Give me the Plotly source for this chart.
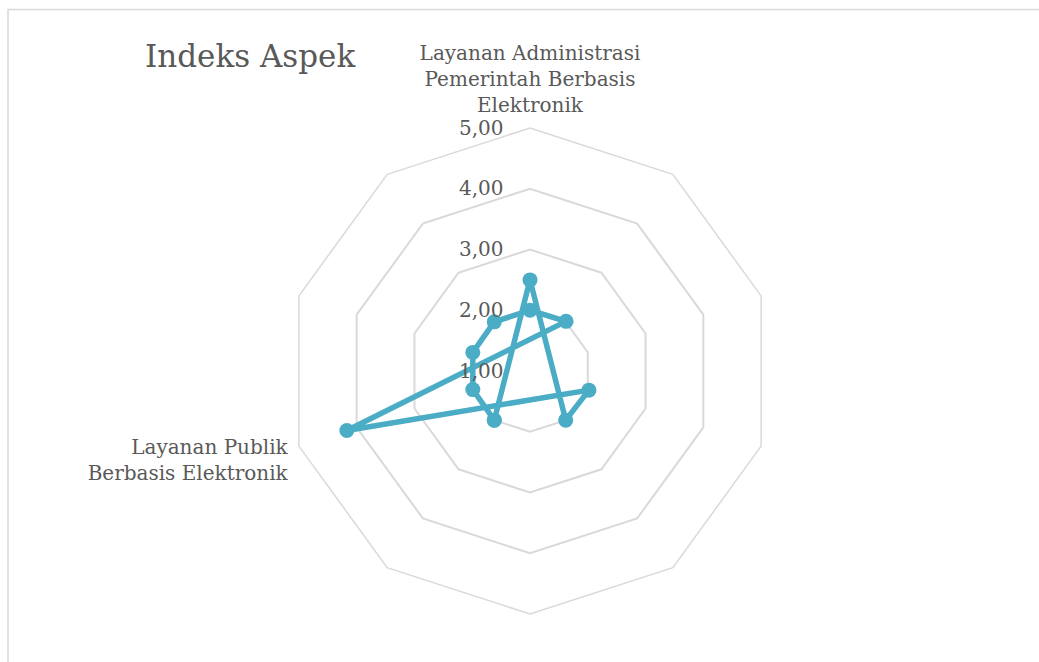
import plotly.graph_objects as go

# Ten radar categories (clockwise from the top); only two carry visible names
categories = [
    "Layanan Administrasi<br>Pemerintah Berbasis<br>Elektronik",
    " ", "  ", "   ", "    ", "     ", "      ",
    "Layanan Publik<br>Berbasis Elektronik",
    "       ", "        ",
]

# Order in which the series visits the categories, and the plotted values
point_category_index = [6, 0, 4, 3, 7, 1, 0, 9, 8, 7]
point_values = [2.00, 2.50, 2.00, 2.02, 4.17, 2.01, 2.00, 2.00, 1.99, 1.99]

radial_ticks = [1, 2, 3, 4, 5]

theta = [categories[i] for i in point_category_index]
theta = theta + theta[:1]
r = point_values + point_values[:1]

COLOR = "#4bacc6"
TEXT = "#595959"
GRID = "#d9d9d9"
FONT = "DejaVu Serif"

fig = go.Figure()
fig.add_trace(go.Scatterpolar(
    r=r, theta=theta, mode="lines+markers",
    line=dict(color=COLOR, width=5.5),
    marker=dict(color=COLOR, size=15),
    showlegend=False, hoverinfo="skip",
))

W, H = 1039, 662
cx, cy, R = 530, 371, 243
fig.update_layout(
    width=W, height=H,
    margin=dict(l=0, r=0, t=0, b=0),
    paper_bgcolor="white",
    separators=",.",
    font=dict(family=FONT, size=20, color=TEXT),
    title=dict(text="Indeks Aspek", x=145 / W, xanchor="left",
               y=1 - 56 / H, yanchor="middle", xref="paper", yref="paper",
               font=dict(family=FONT, size=31, color=TEXT)),
    polar=dict(
        domain=dict(x=[(cx - R) / W, (cx + R) / W],
                    y=[(H - cy - R) / H, (H - cy + R) / H]),
        bgcolor="white",
        gridshape="linear",
        radialaxis=dict(range=[1, 5], tickvals=radial_ticks, tickformat=".2f",
                        angle=90, tickangle=90, side="counterclockwise",
                        showline=False, ticks="outside", ticklen=19,
                        tickcolor="rgba(0,0,0,0)",
                        gridcolor=GRID, gridwidth=1.5,
                        tickfont=dict(family=FONT, size=20, color=TEXT)),
        angularaxis=dict(type="category", categoryarray=categories,
                         rotation=90, direction="clockwise",
                         showgrid=False, showline=True, linecolor=GRID,
                         linewidth=1.5, ticks="outside", ticklen=7,
                         tickcolor="rgba(0,0,0,0)",
                         tickfont=dict(family=FONT, size=20, color=TEXT)),
    ),
    shapes=[dict(type="rect", xref="paper", yref="paper",
                 x0=8 / W, x1=1.05, y0=-0.05, y1=1 - 9.5 / H,
                 line=dict(color=GRID, width=1.5), fillcolor="rgba(0,0,0,0)",
                 layer="below")],
)

fig.write_html("out.html")
